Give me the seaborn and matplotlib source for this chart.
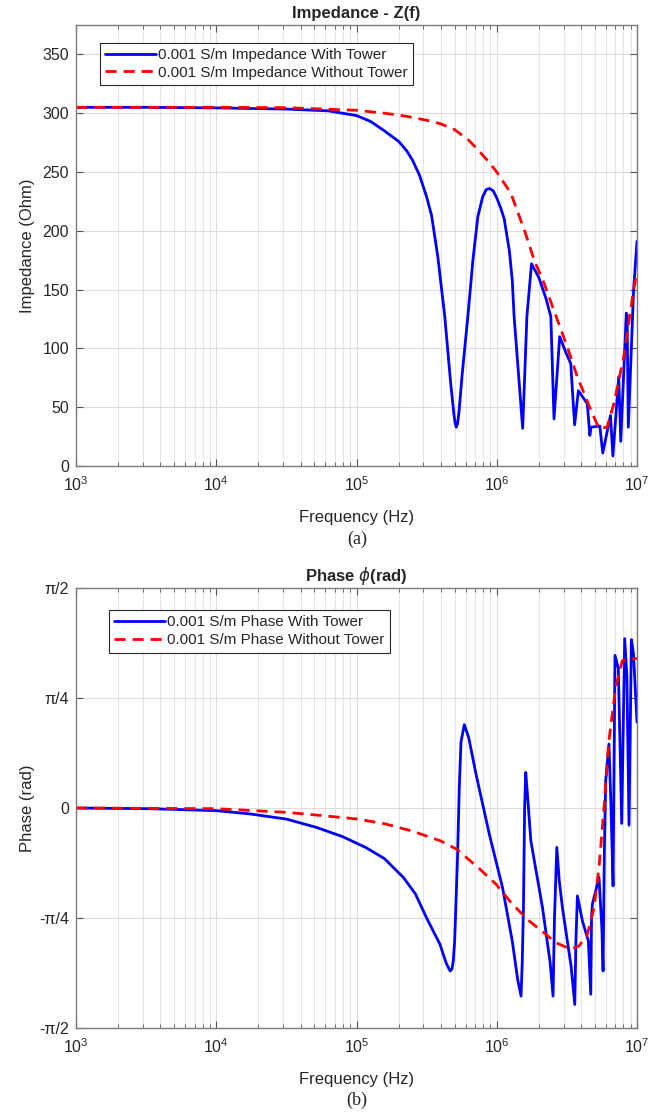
import numpy as np
import pandas as pd
import seaborn as sns
import matplotlib.pyplot as plt
from matplotlib.ticker import LogLocator, NullFormatter

# ------------------------
# Data (frequency in Hz)
# ------------------------
# Impedance with tower (Ohm)
f_z_tower = [1e3, 3.16e3, 1e4, 3.16e4, 6.3e4, 1e5, 1.26e5, 1.58e5, 2.0e5, 2.28e5,
             2.51e5, 2.82e5, 3.16e5, 3.43e5, 3.8e5, 4.26e5, 4.68e5, 4.95e5, 5.04e5,
             5.14e5, 5.25e5, 5.37e5, 5.69e5, 6.22e5, 6.76e5, 7.33e5, 7.94e5, 8.41e5,
             8.87e5, 9.44e5, 1.0e6, 1.07e6, 1.13e6, 1.23e6, 1.29e6, 1.33e6, 1.43e6,
             1.53e6, 1.58e6, 1.64e6, 1.77e6, 2.0e6, 2.25e6, 2.43e6, 2.56e6, 2.81e6,
             3.1e6, 3.37e6, 3.59e6, 3.82e6, 4.42e6, 4.61e6, 4.70e6, 5.43e6, 5.70e6,
             6.47e6, 6.73e6, 7.41e6, 7.66e6, 8.39e6, 8.5e6, 8.67e6, 9.46e6, 1e7]
z_tower = [305, 305, 304.5, 303.5, 302, 298, 293, 285, 276, 268,
           260, 247, 229, 213, 178, 127, 72, 44, 37,
           33, 36, 45, 80, 127, 175, 212, 229, 235,
           236, 234, 228, 219, 210, 183, 158, 127, 78,
           32, 75, 127, 172, 160, 142, 127, 40, 110,
           97, 87, 35, 64, 53, 26, 33, 34, 11,
           43, 8.5, 76, 21, 130, 128, 33, 150, 191]

# Impedance without tower (Ohm)
f_z_free = [1e3, 1e4, 3.16e4, 1e5, 1.58e5, 2.24e5, 3.16e5, 3.98e5, 5.01e5, 6.31e5,
            7.33e5, 8.71e5, 1.0e6, 1.26e6, 1.58e6, 1.85e6, 2.18e6, 2.71e6, 3.19e6,
            3.75e6, 4.67e6, 5.35e6, 6.12e6, 6.84e6, 8.04e6, 9.46e6, 1e7]
z_free = [305, 305, 304.7, 302.5, 300, 297.5, 294, 291, 286, 277,
          269, 259, 250, 232, 200, 175, 155, 124, 101,
          76, 48, 32, 33, 53, 93, 150, 164]

# Phase with tower (rad)
f_p_tower = [1e3, 3.37e3, 1e4, 1.73e4, 3.16e4, 5.16e4, 7.94e4, 1.17e5, 1.58e5, 2.16e5,
             2.63e5, 3.16e5, 3.94e5, 4.17e5, 4.37e5, 4.65e5, 4.79e5, 4.90e5, 5.01e5,
             5.25e5, 5.41e5, 5.56e5, 5.87e5, 6.31e5, 7.11e5, 8.85e5, 1.10e6, 1.29e6,
             1.41e6, 1.49e6, 1.52e6, 1.55e6, 1.58e6, 1.61e6, 1.66e6, 1.75e6, 2.12e6,
             2.40e6, 2.52e6, 2.58e6, 2.68e6, 2.79e6, 2.94e6, 3.39e6, 3.60e6, 3.67e6,
             3.76e6, 4.08e6, 4.50e6, 4.68e6, 4.74e6, 4.81e6, 5.36e6, 5.62e6, 5.73e6,
             5.85e6, 5.98e6, 6.31e6, 6.53e6, 6.75e6, 6.86e6, 6.97e6, 7.36e6, 7.78e6,
             8.17e6, 8.47e6, 8.77e6, 9.12e6, 9.44e6, 1e7]
p_tower = [0.0, -0.005, -0.019, -0.042, -0.079, -0.138, -0.204, -0.283, -0.361, -0.496,
           -0.613, -0.785, -0.974, -1.05, -1.11, -1.164, -1.15, -1.09, -0.950,
           -0.353, 0.157, 0.471, 0.595, 0.503, 0.243, -0.187, -0.569, -0.950,
           -1.225, -1.343, -1.100, -0.712, 0.0, 0.254, 0.079, -0.234, -0.712,
           -1.100, -1.343, -0.785, -0.281, -0.518, -0.712, -1.131, -1.403, -0.942,
           -0.628, -0.806, -0.950, -1.330, -0.785, -0.686, -0.496, -0.864, -1.164,
           -0.314, 0.195, 0.456, 0.0, -0.556, 0.314, 1.090, 0.997, -0.110,
           1.209, 0.942, -0.123, 1.202, 1.100, 0.613]

# Phase without tower (rad)
f_p_free = [1e3, 1e4, 3.16e4, 5.16e4, 1e5, 1.58e5, 2.5e5, 3.98e5, 5.18e5, 7.5e5,
            9.9e5, 1.29e6, 1.70e6, 2.24e6, 2.63e6, 3.37e6, 3.86e6, 4.43e6, 4.94e6,
            5.36e6, 5.82e6, 6.31e6, 7.05e6, 7.85e6, 1e7]
p_free = [0.0, -0.005, -0.031, -0.05, -0.078, -0.112, -0.165, -0.235, -0.294, -0.432,
          -0.545, -0.686, -0.806, -0.902, -0.961, -1.008, -0.985, -0.902, -0.712,
          -0.424, 0.005, 0.482, 0.864, 1.052, 1.068]

phase_ticks = [-np.pi / 2, -np.pi / 4, 0, np.pi / 4, np.pi / 2]
phase_labels = ['-π/2', '-π/4', '0', 'π/4', 'π/2']

# ------------------------
# Style (MATLAB-like look)
# ------------------------
sns.set_style('ticks')
plt.rcParams['font.family'] = ['Liberation Sans', 'DejaVu Sans']
plt.rcParams['text.color'] = '#262626'
plt.rcParams['axes.labelcolor'] = '#262626'
plt.rcParams['xtick.color'] = '#555555'
plt.rcParams['ytick.color'] = '#555555'
plt.rcParams['xtick.labelcolor'] = '#262626'
plt.rcParams['ytick.labelcolor'] = '#262626'

fig = plt.figure(figsize=(6.7, 11.12), dpi=100)
ax1 = fig.add_axes([76 / 670, 1 - 466 / 1112, (637 - 76) / 670, 441 / 1112])
ax2 = fig.add_axes([76 / 670, 1 - 1028 / 1112, (637 - 76) / 670, 440 / 1112])

dash = (0, (4, 2.5))

sns.lineplot(x=f_z_tower, y=z_tower, ax=ax1, color='blue', lw=2, sort=False,
             estimator=None, label='0.001 S/m Impedance With Tower')
sns.lineplot(x=f_z_free, y=z_free, ax=ax1, color='red', lw=2, sort=False,
             estimator=None, linestyle=dash, label='0.001 S/m Impedance Without Tower')

sns.lineplot(x=f_p_tower, y=p_tower, ax=ax2, color='blue', lw=2, sort=False,
             estimator=None, label='0.001 S/m Phase With Tower')
sns.lineplot(x=f_p_free, y=p_free, ax=ax2, color='red', lw=2, sort=False,
             estimator=None, linestyle=dash, label='0.001 S/m Phase Without Tower')

for ax in (ax1, ax2):
    ax.set_xscale('log')
    ax.set_xlim(1e3, 1e7)
    ax.xaxis.set_major_locator(LogLocator(base=10, numticks=10))
    ax.xaxis.set_minor_locator(LogLocator(base=10, subs=np.arange(2, 10), numticks=50))
    ax.xaxis.set_minor_formatter(NullFormatter())
    ax.grid(which='major', color='#dcdcdc', lw=0.8)
    ax.grid(which='minor', axis='x', color='#e4e4e4', lw=0.8)
    ax.set_axisbelow(True)
    ax.tick_params(which='both', direction='in', top=True, right=True,
                   labelsize=11.5, pad=5)
    ax.tick_params(axis='x', which='major', pad=7)
    ax.tick_params(which='major', length=5, width=0.8)
    ax.tick_params(which='minor', length=3, width=0.6)
    for s in ax.spines.values():
        s.set_color('#7a7a7a')
        s.set_linewidth(1.0)
    ax.set_xlabel('Frequency (Hz)', fontsize=12, labelpad=11)
    ax.yaxis.set_label_coords(-0.073, 0.5)

ax1.set_ylim(0, 375)
ax1.set_yticks(range(0, 351, 50))
ax1.set_ylabel('Impedance (Ohm)', fontsize=12)
ax1.set_title('Impedance - Z(f)', fontsize=12, fontweight='bold', pad=5)

ax2.set_ylim(-np.pi / 2, np.pi / 2)
ax2.set_yticks(phase_ticks)
ax2.set_yticklabels(phase_labels)
ax2.set_ylabel('Phase (rad)', fontsize=12)
ax2.set_title(r'Phase $\phi$(rad)', fontsize=12, fontweight='bold', pad=5)

leg_kw = dict(loc='upper left', frameon=True, fancybox=False, framealpha=1,
              edgecolor='#262626', fontsize=11, handlelength=3.3, handletextpad=0.15,
              borderpad=0.35, labelspacing=0.25, borderaxespad=0)
leg1 = ax1.legend(bbox_to_anchor=(0.043, 0.960), **leg_kw)
leg2 = ax2.legend(bbox_to_anchor=(0.059, 0.950), **leg_kw)
for leg in (leg1, leg2):
    leg.get_frame().set_linewidth(0.8)

fig.text(357 / 670, 1 - 539 / 1112, '(a)', ha='center', va='center',
         fontsize=13, family=['Liberation Serif', 'DejaVu Serif'])
fig.text(357 / 670, 1 - 1100 / 1112, '(b)', ha='center', va='center',
         fontsize=13, family=['Liberation Serif', 'DejaVu Serif'])

fig.savefig('out.png', dpi=100, facecolor='white')
